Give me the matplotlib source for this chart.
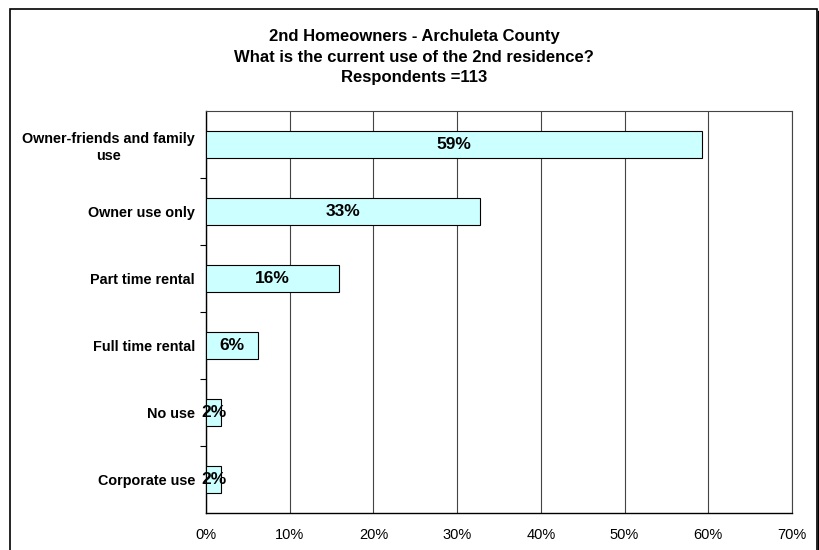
import matplotlib
matplotlib.use("Agg")
import matplotlib.pyplot as plt
from matplotlib.patches import Rectangle
from matplotlib.lines import Line2D

plt.rcParams['font.family'] = ['Liberation Sans', 'DejaVu Sans']

categories = ["Owner-friends and family\nuse", "Owner use only", "Part time rental",
              "Full time rental", "No use", "Corporate use"]
values = [59.3, 32.7, 15.9, 6.2, 1.8, 1.8]
labels = ["59%", "33%", "16%", "6%", "2%", "2%"]
xticks = [0, 10, 20, 30, 40, 50, 60, 70]

fig = plt.figure(figsize=(8.2, 5.5), dpi=100)
fig.patch.set_facecolor("white")

# outer chart frame with a shadow on the right
fig.patches.append(Rectangle((10 / 820, -0.02), 807 / 820, 1.02 - 9 / 550,
                             transform=fig.transFigure, fill=False,
                             edgecolor="black", linewidth=1.2))
fig.lines.append(Line2D([819 / 820, 819 / 820], [0, 1 - 12 / 550],
                        transform=fig.transFigure, color="black", linewidth=2.5))

ax = fig.add_axes([206 / 820, 1 - 513 / 550, 586 / 820, 402 / 550])

ypos = list(range(len(categories)))
ax.barh(ypos, values, height=0.4, color="#CCFFFF", edgecolor="black",
        linewidth=0.8, zorder=3)
for y, v, t in zip(ypos, values, labels):
    ax.text(v / 2, y, t, ha="center", va="center",
            fontsize=12.5, fontweight="bold", zorder=4)

ax.set_xlim(0, 70)
ax.set_ylim(len(categories) - 0.5, -0.5)
ax.set_xticks(xticks)
ax.set_xticklabels([f"{x}%" for x in xticks], fontsize=10.5)
ax.tick_params(axis="x", length=0, pad=11)

ax.set_yticks(ypos)
ax.set_yticklabels(categories, fontsize=10.4, fontweight="bold",
                   multialignment="center", linespacing=1.25)
ax.set_yticks([y + 0.5 for y in ypos[:-1]], minor=True)
ax.tick_params(axis="y", which="major", length=0, pad=8)
ax.tick_params(axis="y", which="minor", length=4, width=0.8, direction="out")

ax.xaxis.grid(True, color="#444444", linewidth=0.8, zorder=0)
for s in ["top", "right"]:
    ax.spines[s].set_color("#444444")
    ax.spines[s].set_linewidth(0.8)
ax.spines["left"].set_linewidth(1.0)
ax.spines["bottom"].set_linewidth(1.0)

fig.text(414 / 820, 1 - 57 / 550,
         "2nd Homeowners - Archuleta County\n"
         "What is the current use of the 2nd residence?\n"
         "Respondents =113",
         ha="center", va="center", fontsize=12, fontweight="bold", linespacing=1.47)

fig.savefig("out.png", dpi=100)
